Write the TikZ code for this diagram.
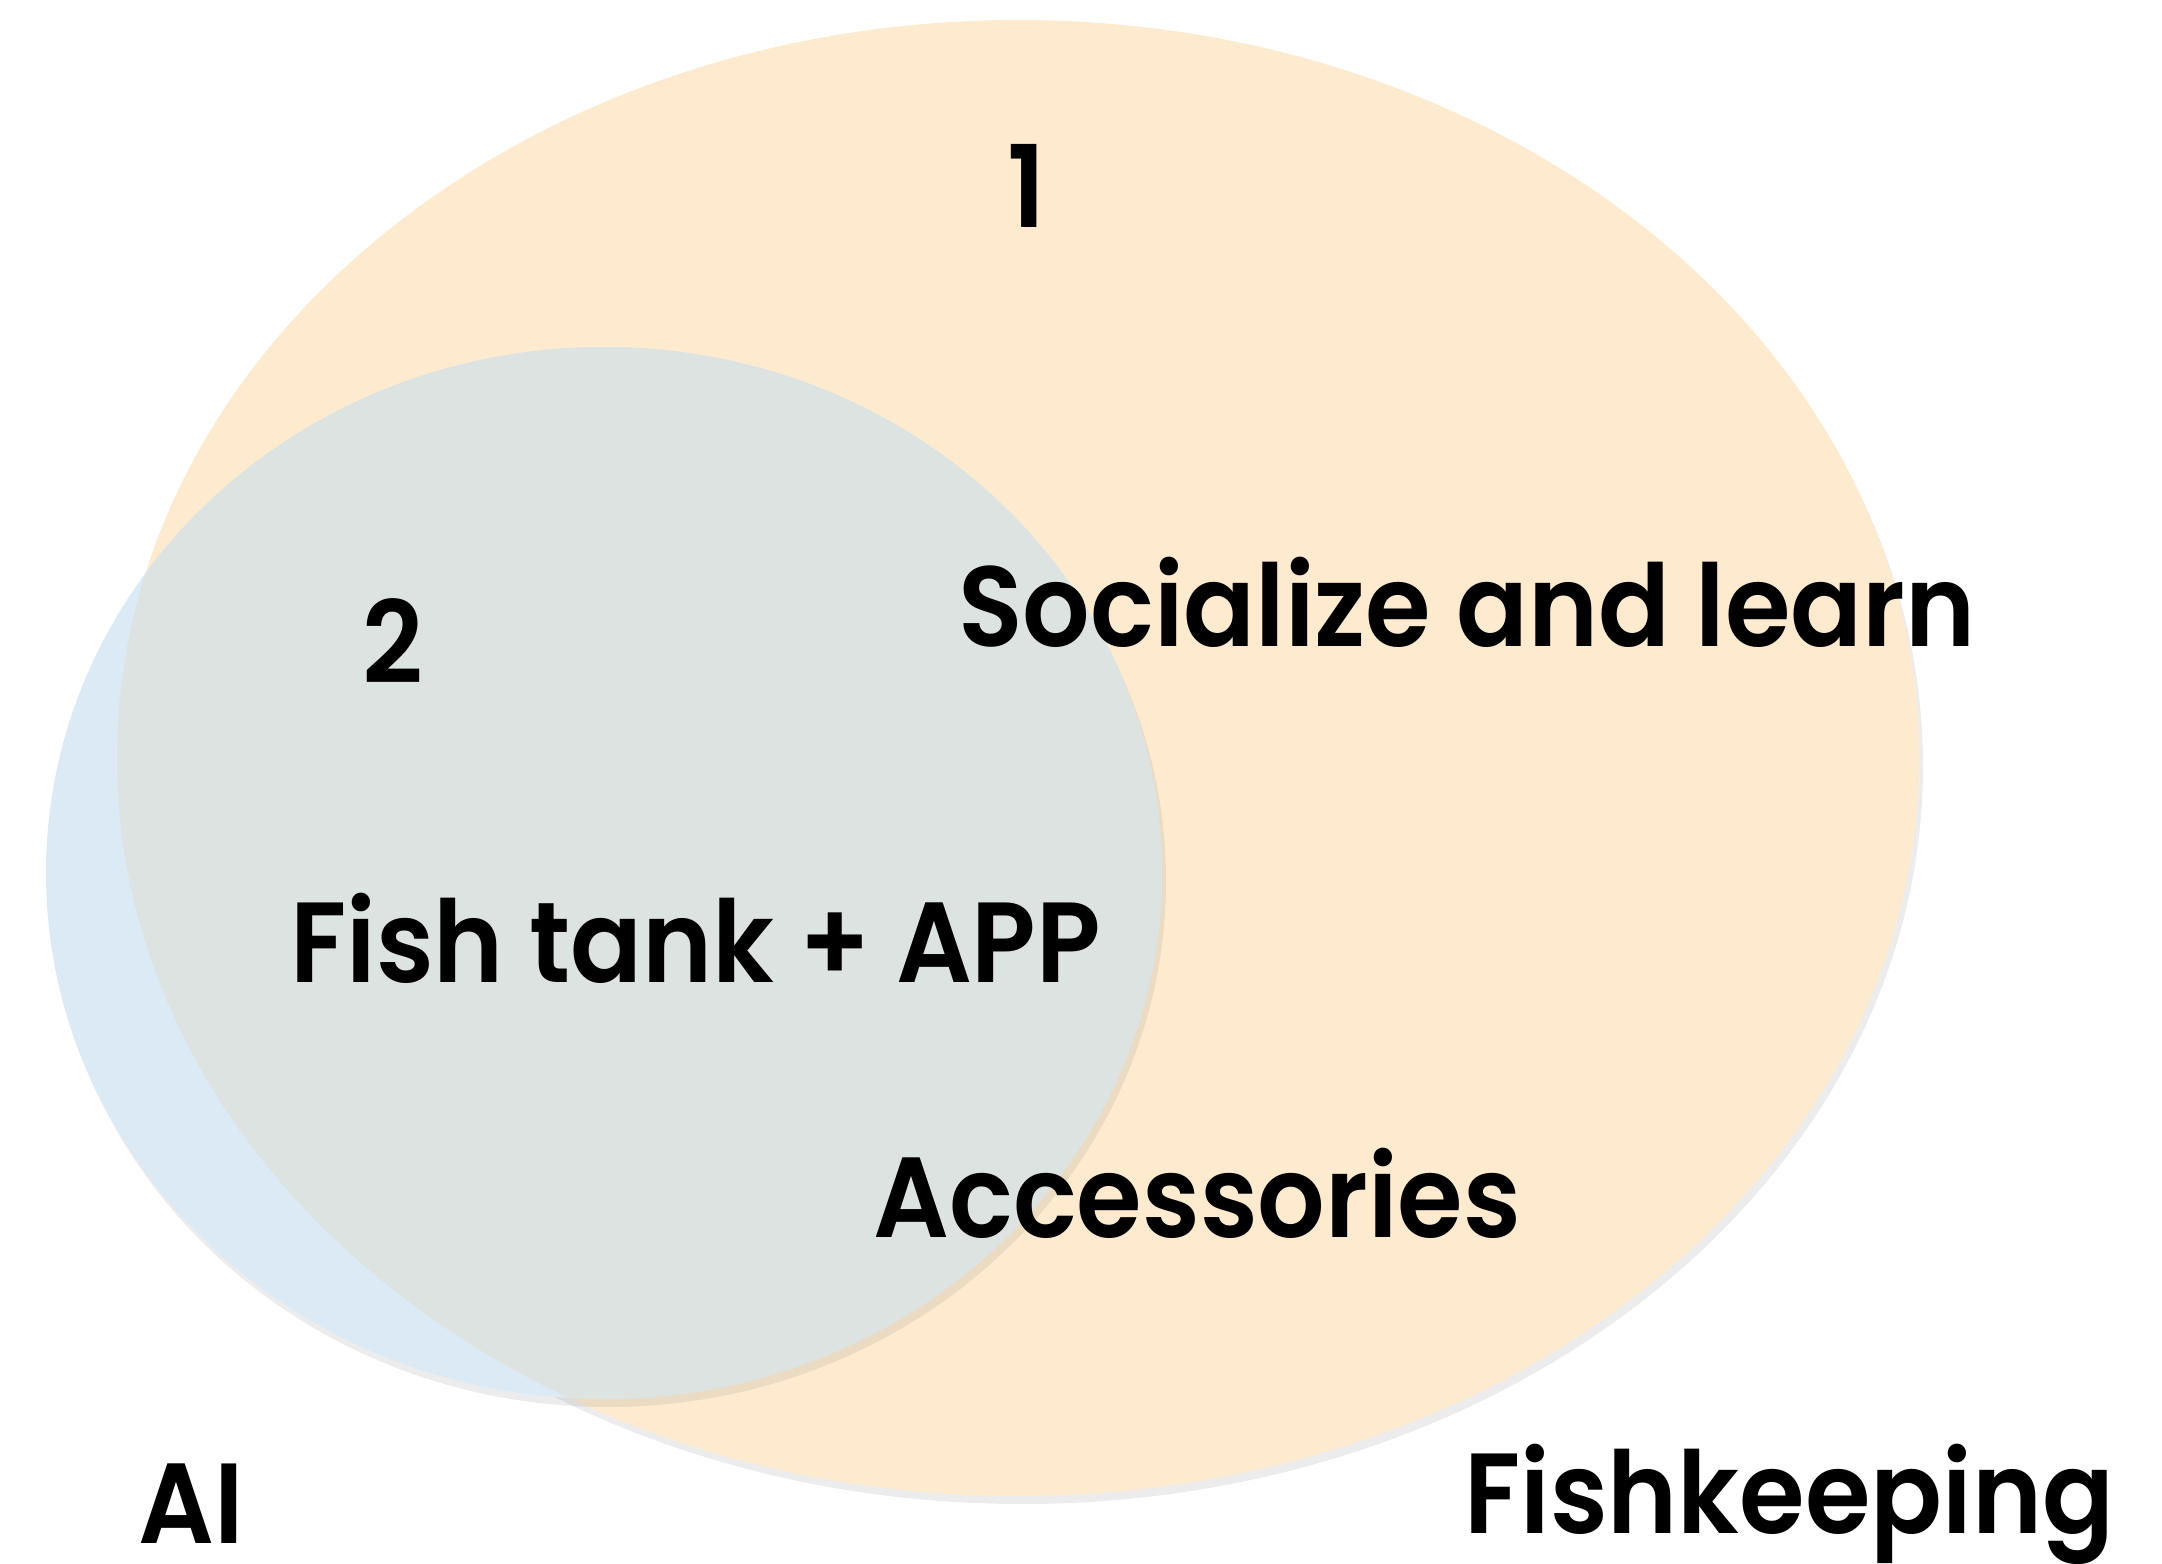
\documentclass[tikz,border=0pt]{standalone}
\usepackage{fontspec}
\setmainfont{Poppins}[BoldFont={Poppins SemiBold}, FakeStretch=0.93]
\usetikzlibrary{shadows}
\definecolor{fishorange}{HTML}{FEEBCF}
\definecolor{aiblue}{HTML}{DCEAF5}
\definecolor{overlapgray}{HTML}{DDE3E0}
\tikzset{
    setshadow/.style={drop shadow={shadow xshift=2pt,shadow yshift=-4pt,opacity=0.15}},
    venntext/.style={font=\fontsize{57}{60}\selectfont\bfseries, inner sep=0pt}
}
\begin{document}
\begin{tikzpicture}[x=0.5pt,y=-0.5pt]
    \useasboundingbox (0,0) rectangle (2162,1563);
    % the two sets
    \fill[fishorange, setshadow] (1018,758) ellipse [x radius=901, y radius=738];
    \fill[aiblue, setshadow] (604,873) ellipse [x radius=558, y radius=526];
    \begin{scope}
        \clip (1018,758) ellipse [x radius=901, y radius=738];
        \fill[overlapgray] (604,873) ellipse [x radius=558, y radius=526];
    \end{scope}
    % labels
    \node[venntext] (one) at (1027,186) {1};
    \node[venntext] (two) at (393,641) {2};
    \node[venntext, anchor=west] (social) at (958,602) {Socialize and learn};
    \node[venntext, anchor=west] (tank) at (290,938) {Fish tank + APP};
    \node[venntext, anchor=west] (acc) at (873,1193) {Accessories};
    \node[venntext, anchor=west] (ai) at (138,1504) {AI};
    \node[venntext, anchor=west] (keeping) at (1464,1504) {Fishkeeping};
\end{tikzpicture}
\end{document}
